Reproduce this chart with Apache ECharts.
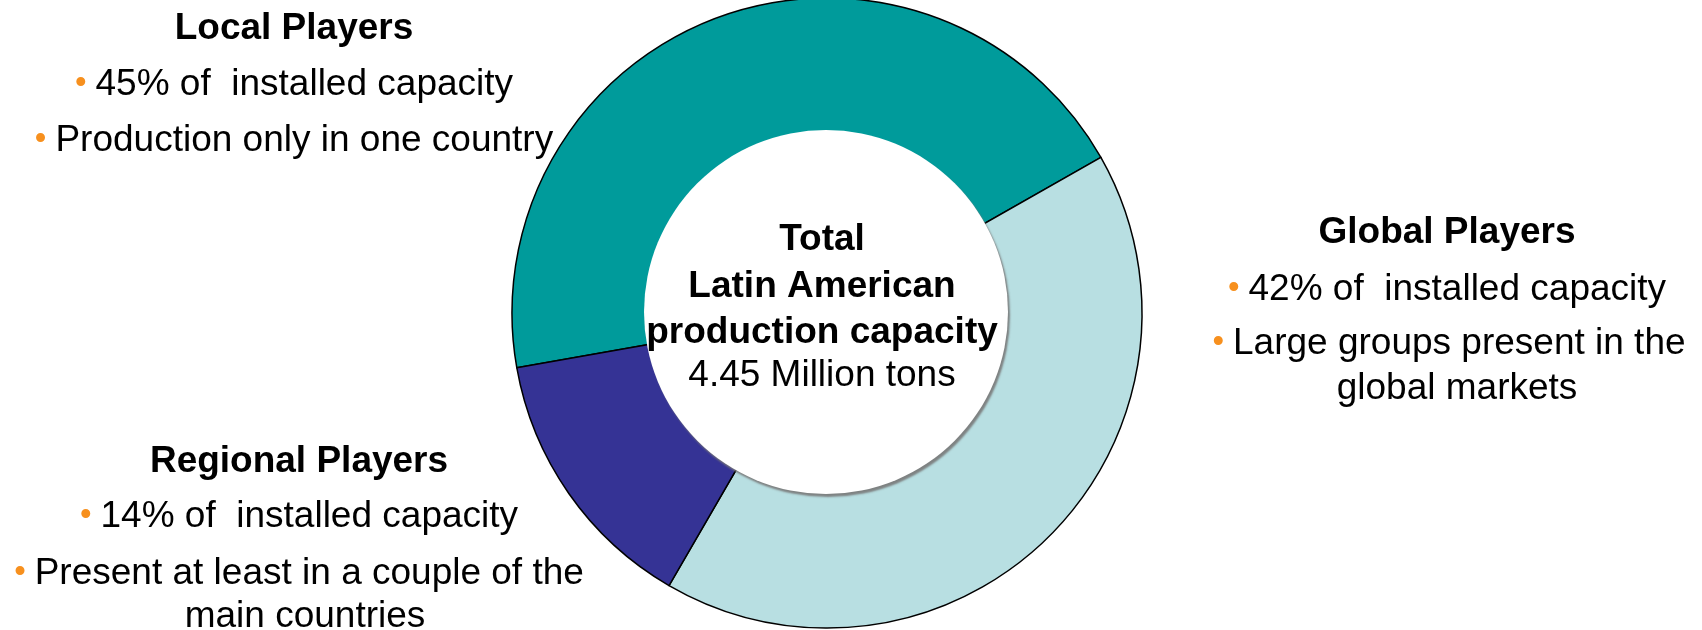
<!DOCTYPE html>
<html>
<head>
<meta charset="utf-8">
<script src="https://cdn.jsdelivr.net/npm/echarts@6/dist/echarts.min.js"></script>
<style>
html,body{margin:0;padding:0;background:#fff;}
#chart{width:1702px;height:630px;}
</style>
</head>
<body>
<div id="chart"></div>
<script>
var categories = ['Local Players', 'Global Players', 'Regional Players'];
var shares = [45, 42, 14];
var centerLines = ['Total', 'Latin American', 'production capacity', '4.45 Million tons'];
var localLines = ['45% of  installed capacity', 'Production only in one country'];
var globalLines = ['42% of  installed capacity', 'Large groups present in the', 'global markets'];
var regionalLines = ['14% of  installed capacity', 'Present at least in a couple of the', 'main countries'];

var FONT = '"Liberation Sans", Arial, sans-serif';
var chart = echarts.init(document.getElementById('chart'), null, {renderer: 'canvas'});

var rich = {
  b: {fill: '#F7901E', fontSize: 33, fontFamily: FONT, padding: [0, 9, 2, 0]},
  t: {fill: '#000', fontSize: 37, fontFamily: FONT}
};
function txt(x, y, content, bold, isBullet) {
  var s;
  if (isBullet) {
    s = {text: '{b|•}{t|' + content + '}', rich: rich, x: x, y: y, align: 'center', verticalAlign: 'middle'};
  } else {
    s = {text: content, x: x, y: y, align: 'center', verticalAlign: 'middle',
         fill: '#000', font: (bold ? 'bold ' : '') + '37px ' + FONT};
  }
  return {type: 'text', silent: true, z: 100, style: s};
}

var graphics = [
  txt(294, 29, categories[0], true),
  txt(294, 85, localLines[0], false, true),
  txt(294, 141, localLines[1], false, true),
  txt(1447, 233, categories[1], true),
  txt(1447, 290, globalLines[0], false, true),
  txt(1449, 344, globalLines[1], false, true),
  txt(1457, 389, globalLines[2], false),
  txt(299, 462, categories[2], true),
  txt(299, 517, regionalLines[0], false, true),
  txt(299, 574, regionalLines[1], false, true),
  txt(305, 617, regionalLines[2], false),
  txt(822, 240, centerLines[0], true),
  txt(822, 287, centerLines[1], true),
  txt(822, 333, centerLines[2], true),
  txt(822, 376, centerLines[3], false)
];

chart.setOption({
  animation: false,
  series: [
    {
      type: 'pie',
      center: [827, 313],
      radius: [0, 315],
      startAngle: 190,
      clockwise: true,
      silent: true,
      label: {show: false},
      labelLine: {show: false},
      itemStyle: {borderColor: '#000', borderWidth: 1.5},
      data: categories.map(function (c, i) {
        return {name: c, value: shares[i],
          itemStyle: {color: ['#009B9B', '#B8DFE2', '#353395'][i]}};
      })
    },
    {
      type: 'pie',
      center: [826, 312],
      radius: [0, 182],
      silent: true,
      z: 5,
      label: {show: false},
      labelLine: {show: false},
      itemStyle: {color: '#fff', shadowColor: 'rgba(120,120,120,0.9)', shadowBlur: 2, shadowOffsetX: 2, shadowOffsetY: 3, borderWidth: 0},
      data: [{name: 'center', value: 1}]
    }
  ],
  graphic: graphics
});
</script>
</body>
</html>
